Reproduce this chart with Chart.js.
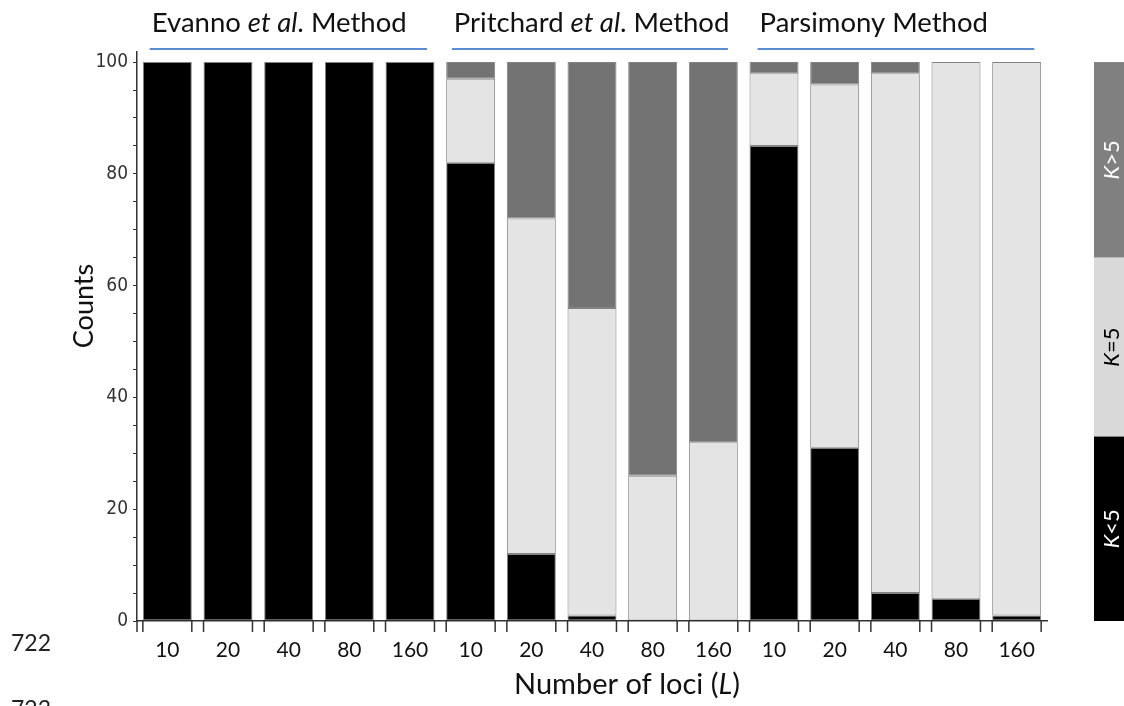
<!DOCTYPE html>
<html>
<head>
<meta charset="utf-8">
<script src="https://cdn.jsdelivr.net/npm/chart.js@4.4.0/dist/chart.umd.min.js"></script>
<style>
html,body{margin:0;padding:0;background:#fff;}
</style>
</head>
<body>
<canvas id="chart" width="1124" height="706"></canvas>
<script>
// loci per run, same five values for each method
const lociLabels=['10','20','40','80','160','10','20','40','80','160','10','20','40','80','160'];
// method names, [text, italic] pieces
const methodNames=[
    [['Evanno ',false],['et al',true],['. Method',false]],
    [['Pritchard ',false],['et al',true],['. Method',false]],
    [['Parsimony Method',false]]
];
// counts out of 100 runs
const kLess=[100,100,100,100,100, 82,12,1,0,0, 85,31,5,4,1];
const kEqual=[0,0,0,0,0, 15,60,55,26,32, 13,65,93,96,99];
const kMore=[0,0,0,0,0, 3,28,44,74,68, 2,4,2,0,0];
const yTickLabels=[0,20,40,60,80,100];

const FONT='Lato, "Open Sans", sans-serif';
const TICKFONT='"Liberation Sans Narrow","DejaVu Sans Condensed",sans-serif';

// where the header underlines start/end, in category units
const headerSpans=[[-0.29,4.28],[4.69,9.24],[9.73,14.29]];
// side strip colours and split points (fraction of the height)
const stripColors=['#808080','#d9d9d9','#000000'];
const stripText=['#ffffff','#000000','#ffffff'];
const stripSplits=[0,0.35,0.67,1];

function segment(label,data,color){
    return {label:label,data:data,backgroundColor:color,
        borderColor:'rgba(30,30,30,0.55)',borderWidth:1,borderSkipped:false,
        barPercentage:0.807,categoryPercentage:1};
}

// writes pieces of text (some italic) starting at x
function drawRich(c,parts,x,y,size,color){
    let cx=x;
    c.fillStyle=color;
    parts.forEach(function(p){
        c.font=(p[1]?'italic ':'')+size+'px '+FONT;
        c.fillText(p[0],cx,y);
        cx+=c.measureText(p[0]).width;
    });
    return cx-x;
}
function richWidth(c,parts,size){
    let w=0;
    parts.forEach(function(p){
        c.font=(p[1]?'italic ':'')+size+'px '+FONT;
        w+=c.measureText(p[0]).width;
    });
    return w;
}
function kParts(label){
    return [['K',true],[label.slice(1),false]];
}

const tickMarks={id:'tickMarks',afterDraw(chart){
    const c=chart.ctx, a=chart.chartArea;
    const bars=chart.getDatasetMeta(0).data;
    c.save();
    c.strokeStyle='#333';
    c.lineWidth=1.5;
    c.beginPath();
    c.moveTo(a.left,a.bottom);c.lineTo(a.left,a.bottom+11);
    bars.forEach(function(b){
        const h=b.width/2;
        [b.x-h,b.x+h].forEach(function(x){
            c.moveTo(x,a.bottom);c.lineTo(x,a.bottom+11);
        });
    });
    c.stroke();
    c.restore();
}};

const headers={id:'headers',afterDraw(chart){
    const c=chart.ctx, x=chart.scales.x;
    const p0=x.getPixelForValue(0), pitch=x.getPixelForValue(1)-p0;
    c.save();
    c.textBaseline='alphabetic';
    methodNames.forEach(function(parts,i){
        const s=p0+headerSpans[i][0]*pitch, e=p0+headerSpans[i][1]*pitch;
        drawRich(c,parts,s+2,32,27.5,'#111');
        c.strokeStyle='#5b8bd0';
        c.lineWidth=2;
        c.beginPath();c.moveTo(s,49);c.lineTo(e,49);c.stroke();
    });
    c.restore();
}};

const sideStrip={id:'sideStrip',afterDraw(chart){
    const c=chart.ctx, y=chart.scales.y;
    const top=y.getPixelForValue(100), bot=y.getPixelForValue(0), h=bot-top;
    const ds=chart.data.datasets.slice().reverse();
    c.save();
    ds.forEach(function(d,i){
        const y0=top+stripSplits[i]*h, y1=top+stripSplits[i+1]*h;
        c.fillStyle=stripColors[i];
        c.fillRect(1094,y0,40,y1-y0);
        const parts=kParts(d.label);
        const w=richWidth(c,parts,22);
        c.save();
        c.translate(1112,(y0+y1)/2);
        c.rotate(-Math.PI/2);
        c.textBaseline='middle';
        drawRich(c,parts,-w/2,0,22,stripText[i]);
        c.restore();
    });
    c.restore();
}};

const titles={id:'titles',afterDraw(chart){
    const c=chart.ctx;
    c.save();
    c.textBaseline='middle';
    // y axis title
    c.save();
    c.translate(84,306);
    c.rotate(-Math.PI/2);
    c.textAlign='center';
    c.font='27px '+FONT;
    c.fillStyle='#111';
    c.fillText('Counts',0,0);
    c.restore();
    // x axis title
    const parts=[['Number of loci (',false],['L',true],[')',false]];
    const w=richWidth(c,parts,29);
    c.textBaseline='alphabetic';
    drawRich(c,parts,627-w/2,694,29,'#111');
    // line numbers in the margin
    c.textBaseline='middle';
    c.font='23px '+FONT;
    c.fillStyle='#222';
    c.fillText('722',11,644);
    c.fillText('723',11,710);
    c.restore();
}};

const ctx=document.getElementById('chart').getContext('2d');
const myChart=new Chart(ctx,{
    type:'bar',
    data:{
        labels:lociLabels,
        datasets:[
            segment('K<5',kLess,'#000000'),
            segment('K=5',kEqual,'#e4e4e4'),
            segment('K>5',kMore,'#737373')
        ]
    },
    options:{
        responsive:false,
        animation:false,
        devicePixelRatio:1,
        layout:{padding:{left:0,right:77,top:52,bottom:0}},
        plugins:{legend:{display:false},tooltip:{enabled:false}},
        scales:{
            x:{
                stacked:true,
                offset:true,
                grid:{display:false,drawTicks:false},
                border:{display:true,color:'#333',width:1.5},
                ticks:{font:{family:FONT,size:21},color:'#111',padding:17,maxRotation:0,autoSkip:false},
                afterFit:function(s){s.height=85;}
            },
            y:{
                stacked:true,
                min:0,
                max:101.8,
                grid:{drawOnChartArea:false,tickLength:4,color:'#333',lineWidth:1},
                border:{display:true,color:'#333',width:1.5},
                ticks:{stepSize:5,includeBounds:false,autoSkip:false,
                    callback:function(v){return yTickLabels.includes(v)?v:'';},
                    font:{family:TICKFONT,size:19},color:'#333',padding:5},
                afterFit:function(s){s.width=137;}
            }
        }
    },
    plugins:[tickMarks,headers,sideStrip,titles]
});
</script>
</body>
</html>
